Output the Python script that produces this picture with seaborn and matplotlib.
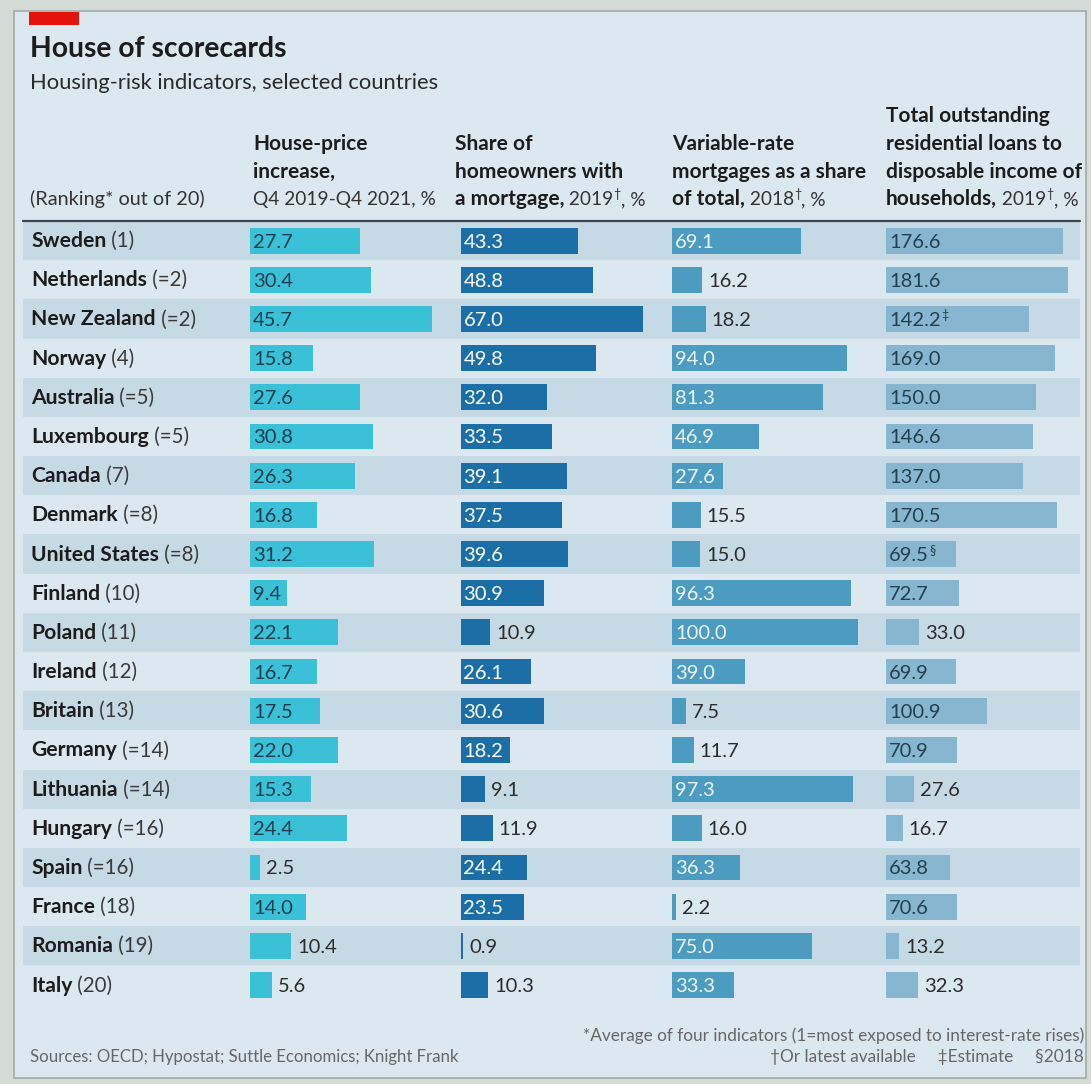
import matplotlib.pyplot as plt
import seaborn as sns
import pandas as pd
from matplotlib.patches import Rectangle
from matplotlib.transforms import offset_copy

sns.set_theme(style="white")
plt.rcParams['font.family'] = ['Lato', 'DejaVu Sans']

# data
countries = ['Sweden', 'Netherlands', 'New Zealand', 'Norway', 'Australia', 'Luxembourg',
             'Canada', 'Denmark', 'United States', 'Finland', 'Poland', 'Ireland', 'Britain',
             'Germany', 'Lithuania', 'Hungary', 'Spain', 'France', 'Romania', 'Italy']
ranks = ['(1)', '(=2)', '(=2)', '(4)', '(=5)', '(=5)', '(7)', '(=8)', '(=8)', '(10)',
         '(11)', '(12)', '(13)', '(=14)', '(=14)', '(=16)', '(=16)', '(18)', '(19)', '(20)']
house_price = [27.7, 30.4, 45.7, 15.8, 27.6, 30.8, 26.3, 16.8, 31.2, 9.4,
               22.1, 16.7, 17.5, 22.0, 15.3, 24.4, 2.5, 14.0, 10.4, 5.6]
mortgage_share = [43.3, 48.8, 67.0, 49.8, 32.0, 33.5, 39.1, 37.5, 39.6, 30.9,
                  10.9, 26.1, 30.6, 18.2, 9.1, 11.9, 24.4, 23.5, 0.9, 10.3]
variable_rate = [69.1, 16.2, 18.2, 94.0, 81.3, 46.9, 27.6, 15.5, 15.0, 96.3,
                 100.0, 39.0, 7.5, 11.7, 97.3, 16.0, 36.3, 2.2, 75.0, 33.3]
loans_income = [176.6, 181.6, 142.2, 169.0, 150.0, 146.6, 137.0, 170.5, 69.5, 72.7,
                33.0, 69.9, 100.9, 70.9, 27.6, 16.7, 63.8, 70.6, 13.2, 32.3]
loans_notes = {'New Zealand': '‡', 'United States': '§'}

# which value labels sit to the right of the bar
outside_house = ['Spain', 'Romania', 'Italy']
outside_mortgage = ['Poland', 'Lithuania', 'Hungary', 'Romania', 'Italy']
outside_variable = ['Netherlands', 'New Zealand', 'Denmark', 'United States', 'Britain',
                    'Germany', 'Hungary', 'France']
outside_loans = ['Poland', 'Lithuania', 'Hungary', 'Romania', 'Italy']

headers = [
    [[('House-price', 'bold')], [('increase,', 'bold')], [('Q4 2019-Q4 2021, %', 'normal')]],
    [[('Share of', 'bold')], [('homeowners with', 'bold')],
     [('a mortgage,', 'bold'), (' 2019', 'normal'), ('†', 'sup'), (', %', 'normal')]],
    [[('Variable-rate', 'bold')], [('mortgages as a share', 'bold')],
     [('of total,', 'bold'), (' 2018', 'normal'), ('†', 'sup'), (', %', 'normal')]],
    [[('Total outstanding', 'bold')], [('residential loans to', 'bold')],
     [('disposable income of', 'bold')],
     [('households,', 'bold'), (' 2019', 'normal'), ('†', 'sup'), (', %', 'normal')]],
]

df = pd.DataFrame({'country': countries, 'house': house_price, 'mortgage': mortgage_share,
                   'variable': variable_rate, 'loans': loans_income})

W, H = 1091, 1084
BG = '#dce8f0'
STRIPE = '#c6dae5'
DARK = '#1c1c1c'


def fx(x):
    return x / W


def fy(y):
    return 1 - y / H


fig = plt.figure(figsize=(W / 100, H / 100), dpi=100)
fig.patch.set_facecolor('#d2dbd5')
fig.add_artist(Rectangle((fx(14), fy(1078)), fx(1086) - fx(14), fy(11) - fy(1078),
                         transform=fig.transFigure, facecolor=BG, edgecolor='#a2aca7',
                         lw=1.2, zorder=-10))
fig.add_artist(Rectangle((fx(29), fy(25)), fx(79) - fx(29), fy(12) - fy(25),
                         transform=fig.transFigure, facecolor='#e3120b', lw=0, zorder=-5))

renderer = fig.canvas.get_renderer()


def draw_pieces(x, y, pieces, size=15, color=DARK, sub_color=None, sub_size=None):
    # y = baseline in pixels from top
    for s, kind in pieces:
        kw = dict(fontsize=size, color=color, fontweight='bold')
        dy = 0
        if kind == 'normal':
            kw.update(fontweight='normal', color=sub_color or color, fontsize=sub_size or size)
        elif kind == 'sup':
            kw.update(fontweight='normal', fontsize=size * 0.6, color=sub_color or color)
            dy = -7
        t = fig.text(fx(x), fy(y + dy), s, va='baseline', ha='left', **kw)
        x += t.get_window_extent(renderer).width


# title block
fig.text(fx(30), fy(57), 'House of scorecards', fontsize=20.3, fontweight='bold', color=DARK, va='baseline')
fig.text(fx(30), fy(89), 'Housing-risk indicators, selected countries', fontsize=15.8, color='#2a2a2a', va='baseline')
fig.text(fx(30), fy(205), '(Ranking* out of 20)', fontsize=14.3, color='#333333', va='baseline')

# row area
top, bottom = 221, 1004.6
n = len(countries)
rect_y = fy(bottom)
rect_h = fy(top) - fy(bottom)

bg_ax = fig.add_axes([fx(23), rect_y, fx(1080) - fx(23), rect_h])
bg_ax.set_xlim(0, 1)
bg_ax.set_ylim(n - 0.5, -0.5)
for i in range(0, n, 2):
    bg_ax.axhspan(i - 0.5, i + 0.5, color=STRIPE, lw=0)
bg_ax.axhline(-0.5, color='#3a4750', lw=1.6, clip_on=False)
bg_ax.axis('off')
bg_ax.patch.set_alpha(0)

# country names
for i, (c, r) in enumerate(zip(countries, ranks)):
    yc = H - bg_ax.transData.transform((0, i))[1]
    draw_pieces(31, yc + 6.5, [(c, 'bold'), (' ' + r, 'normal')], size=15.2,
                sub_color='#3a3a3a', sub_size=14.8)

cols = [
    ('house', 250, 182, '#3ac1d8', '#1d3d4c', outside_house, {}),
    ('mortgage', 460.5, 182, '#1b6fa6', '#ffffff', outside_mortgage, {}),
    ('variable', 672, 186, '#4b9cc0', '#eef5f9', outside_variable, {}),
    ('loans', 886, 182, '#87b7d0', '#243f4d', outside_loans, loans_notes),
]
header_x = [253, 455, 672, 886]

for k, (col, left, width, color, in_color, outside, notes) in enumerate(cols):
    ax = fig.add_axes([fx(left), rect_y, fx(left + width) - fx(left), rect_h])
    sns.barplot(data=df, x=col, y='country', orient='h', color=color, saturation=1,
                width=0.66, errorbar=None, linewidth=0, ax=ax)
    ax.set_xlim(0, df[col].max())
    ax.set_ylim(n - 0.5, -0.5)
    ax.axis('off')
    ax.patch.set_alpha(0)
    for i, (c, v) in enumerate(zip(countries, df[col])):
        if c in outside:
            x0, off, tc = v, 6, '#2c2c2c'
        else:
            x0, off, tc = 0, 3, in_color
        tr = offset_copy(ax.transData, fig=fig, x=off, y=0, units='dots')
        t = ax.text(x0, i, f'{v:.1f}', transform=tr, va='center_baseline', ha='left',
                    fontsize=14.5, color=tc, clip_on=False)
        if c in notes:
            # small raised footnote mark after the value
            wlab = t.get_window_extent(renderer).width
            tr2 = offset_copy(ax.transData, fig=fig, x=off + wlab + 1, y=5, units='dots')
            ax.text(x0, i, notes[c], transform=tr2, va='center_baseline', ha='left',
                    fontsize=9, color=tc, clip_on=False)

    lines = headers[k]
    for j, pieces in enumerate(lines):
        yb = 205 - (len(lines) - 1 - j) * 27.5
        draw_pieces(header_x[k], yb, pieces, size=15, sub_color='#333333', sub_size=13.8)

# footer
fig.text(fx(30), fy(1062), 'Sources: OECD; Hypostat; Suttle Economics; Knight Frank',
         fontsize=12.1, color='#666666', va='baseline')
fig.text(fx(1084), fy(1041), '*Average of four indicators (1=most exposed to interest-rate rises)',
         fontsize=12.4, color='#666666', va='baseline', ha='right')
fig.text(fx(1084), fy(1062), '†Or latest available     ‡Estimate     §2018',
         fontsize=12.4, color='#666666', va='baseline', ha='right')

fig.savefig('out.png', dpi=100, facecolor=fig.get_facecolor())
